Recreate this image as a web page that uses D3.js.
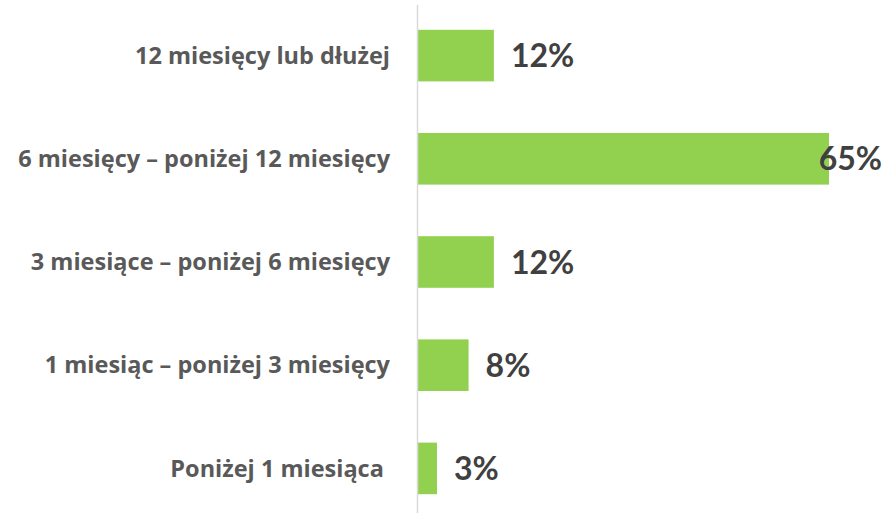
<!DOCTYPE html>
<html>
<head>
<meta charset="utf-8">
<script src="https://cdn.jsdelivr.net/npm/d3@7"></script>
<style>
	body { margin: 0; background: #fff; }
	svg { display: block; }
	text { white-space: pre; }
</style>
</head>
<body>
<script>
const categories = [
	'12 miesięcy lub dłużej',
	'6 miesięcy – poniżej 12 miesięcy',
	'3 miesiące – poniżej 6 miesięcy',
	'1 miesiąc – poniżej 3 miesięcy',
	'Poniżej 1 miesiąca '
];
const values = [12, 65, 12, 8, 3];

const width = 891;
const height = 513;

let svg = d3.select('body')
	.append('svg')
	.attr('width', width)
	.attr('height', height);

let x = d3.scaleLinear()
	.domain([0, 65])
	.range([418, 829]);

let y = d3.scaleBand()
	.domain(categories)
	.range([4, 520])
	.paddingInner(0.5)
	.paddingOuter(0.25);

let data = categories.map((c, i) => ({ cat: c, value: values[i] }));

svg.selectAll('rect')
	.data(data)
	.enter().append('rect')
	.attr('x', x(0))
	.attr('y', d => y(d.cat))
	.attr('width', d => x(d.value) - x(0))
	.attr('height', y.bandwidth())
	.style('fill', '#92d050');

// category axis line
svg.append('line')
	.attr('x1', 417.5)
	.attr('x2', 417.5)
	.attr('y1', 5)
	.attr('y2', height)
	.style('stroke', '#d9d9d9')
	.style('stroke-width', 1.5);

svg.selectAll('text.cat')
	.data(data)
	.enter().append('text')
	.attr('class', 'cat')
	.attr('x', 390)
	.attr('y', d => y(d.cat) + y.bandwidth() / 2)
	.attr('dy', '0.35em')
	.attr('text-anchor', 'end')
	.style('font-family', '"Open Sans", sans-serif')
	.style('font-weight', 'bold')
	.style('font-size', '23.5px')
	.style('fill', '#595959')
	.text(d => d.cat);

let val = svg.selectAll('text.val')
	.data(data)
	.enter().append('text')
	.attr('class', 'val')
	.attr('y', d => y(d.cat) + y.bandwidth() / 2)
	.attr('dy', '0.36em')
	.style('font-family', 'Lato, sans-serif')
	.style('font-weight', 'bold')
	.style('font-size', '32px')
	.style('fill', '#404040')
	.text(d => d.value + '%');

// labels that would run off the edge get pushed back inside
val.attr('x', function(d) {
	let w = this.getComputedTextLength();
	return Math.min(x(d.value) + 17, 882 - w);
});
</script>
</body>
</html>
